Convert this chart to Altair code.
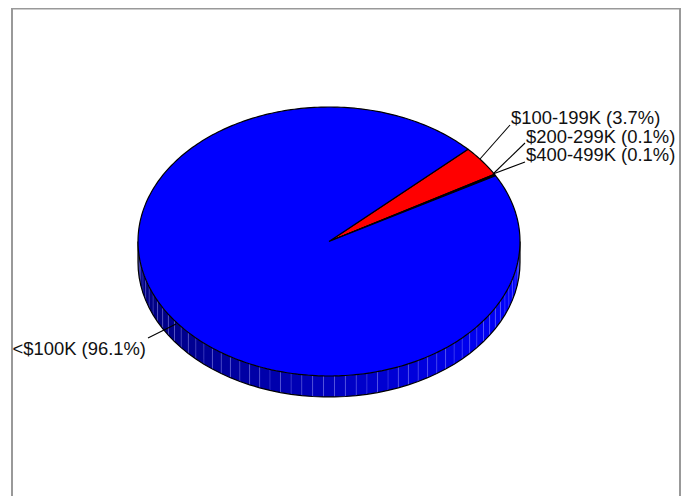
import math
import altair as alt
import pandas as pd

# ---- chart values ----
labels = ["<$100K", "$100-199K", "$200-299K", "$400-499K"]
shares = [96.1, 3.7, 0.1, 0.1]
colors = ["#0000ff", "#ff0000", "#000000", "#000000"]
draw_order = [1, 2, 3, 0]   # clockwise from the start angle
start_angle = 43.3          # degrees, counter-clockwise from east, where $100-199K begins

# page-pixel estimates
label_x = [146, 511, 526, 526]
label_y = [349, 118, 137, 155]
label_align = ["right", "left", "left", "left"]
lead_from_x = [176, 480, 493, 493]
lead_from_y = [324, 159, 174, 174]
lead_to_x = [148, 510, 525, 525]
lead_to_y = [338, 125, 143, 162]

cx, cy, rx, ry, depth = 329, 241.5, 191, 134.5, 21
W, H = 675, 488
FONT = "Liberation Sans"


def ux(px):
    return (px - cx) / rx


def uy(py):
    return (cy - py) / ry


x_scale = alt.Scale(domain=[ux(8), ux(8 + W)], nice=False, zero=False)
y_scale = alt.Scale(domain=[uy(8 + H), uy(8)], nice=False, zero=False)
X = alt.X("x:Q", scale=x_scale, axis=None)
Y = alt.Y("y:Q", scale=y_scale, axis=None)
d = depth / ry

# ---- wedges ----
rows = []
a0 = start_angle
for i in draw_order:
    sweep = shares[i] * 3.6
    a, b = a0, a0 - sweep
    a0 = b
    n = max(2, int(sweep / 1.0))
    pts = [(0, 0)]
    for k in range(n + 1):
        t = math.radians(a + (b - a) * k / n)
        pts.append((math.cos(t), math.sin(t)))
    pts.append((0, 0))
    for k, (x, y) in enumerate(pts):
        rows.append({"wedge": labels[i], "o": k, "x": x, "y": y, "fill": colors[i]})
wedges = pd.DataFrame(rows)

# ---- rim ----
seg = 360 / 110
facet_rows, rule_rows, edge_rows = [], [], []
edge_rows.append({"o": -1, "x": -1, "y": 0})
for k in range(55):
    t0 = math.radians(180 + k * seg)
    t1 = math.radians(180 + (k + 1) * seg)
    mid = (math.cos(t0) + math.cos(t1)) / 2
    level = int(128 + 127 * (mid + 1) / 2)
    col = f"#0000{level:02x}"
    for t in (t0, t1):
        facet_rows.append({"f": k, "x": math.cos(t), "y": math.sin(t), "y2": math.sin(t) - d, "fill": col})
    rule_rows.append({"x": math.cos(t1), "y": math.sin(t1), "y2": math.sin(t1) - d})
    edge_rows.append({"o": k, "x": math.cos(t0), "y": math.sin(t0) - d})
edge_rows.append({"o": 55, "x": 1, "y": -d})
edge_rows.append({"o": 56, "x": 1, "y": 0})
rim = pd.DataFrame(facet_rows)
rim_rules = pd.DataFrame(rule_rows[:-1])
rim_edge = pd.DataFrame(edge_rows)

rim_layer = alt.Chart(rim).mark_area(strokeWidth=0).encode(
    x=X, y=Y, y2="y2:Q", detail="f:N", fill=alt.Fill("fill:N", scale=None)
)
rim_light = alt.Chart(rim_rules).mark_rule(color="#8080ff", strokeWidth=0.6, opacity=0.5).encode(
    x=X, y=Y, y2="y2:Q"
)
rim_line = alt.Chart(rim_edge).mark_line(color="#000000", strokeWidth=1.2).encode(
    x=X, y=Y, order="o:Q"
)
wedge_layer = alt.Chart(wedges).mark_line(
    stroke="#000000", strokeWidth=1.2, strokeJoin="round"
).encode(
    x=X, y=Y, order="o:Q", detail="wedge:N", fill=alt.Fill("fill:N", scale=None)
)

# ---- leaders and labels ----
leaders = pd.DataFrame(
    [
        {"l": labels[i], "o": j, "x": ux(xx), "y": uy(yy)}
        for i in range(4)
        for j, (xx, yy) in enumerate(
            [(lead_from_x[i], lead_from_y[i]), (lead_to_x[i], lead_to_y[i])]
        )
    ]
)
leader_layer = alt.Chart(leaders).mark_line(color="#000000", strokeWidth=1.1).encode(
    x=X, y=Y, order="o:Q", detail="l:N"
)
label_df = pd.DataFrame(
    {
        "x": [ux(v) for v in label_x],
        "y": [uy(v) for v in label_y],
        "t": [f"{l} ({s}%)" for l, s in zip(labels, shares)],
        "a": label_align,
    }
)
text_layers = [
    alt.Chart(label_df[label_df.a == a]).mark_text(
        font=FONT, fontSize=18.4, align=a, baseline="middle", color="#111111"
    ).encode(x=X, y=Y, text="t:N")
    for a in ["left", "right"]
]

# ---- frame ----
frame_color = "#999999"
one = pd.DataFrame({"k": [0]})
frame = [
    alt.Chart(one).mark_rule(color=frame_color, strokeWidth=2).encode(
        x=alt.value(4), y=alt.value(0), y2=alt.value(H)
    ),
    alt.Chart(one).mark_rule(color=frame_color, strokeWidth=2).encode(
        x=alt.value(672), y=alt.value(0), y2=alt.value(H)
    ),
    alt.Chart(one).mark_rule(color=frame_color, strokeWidth=3).encode(
        x=alt.value(3), x2=alt.value(673), y=alt.value(0)
    ),
]

chart = (
    alt.layer(*frame, rim_layer, rim_light, rim_line, wedge_layer, leader_layer, *text_layers)
    .resolve_scale(fill="independent")
    .properties(width=W, height=H, padding=0, autosize=alt.AutoSizeParams(type="none"), background="white")
    .configure_view(stroke=None)
)
chart.save("out.html", embed_options={"renderer": "svg", "actions": False})
